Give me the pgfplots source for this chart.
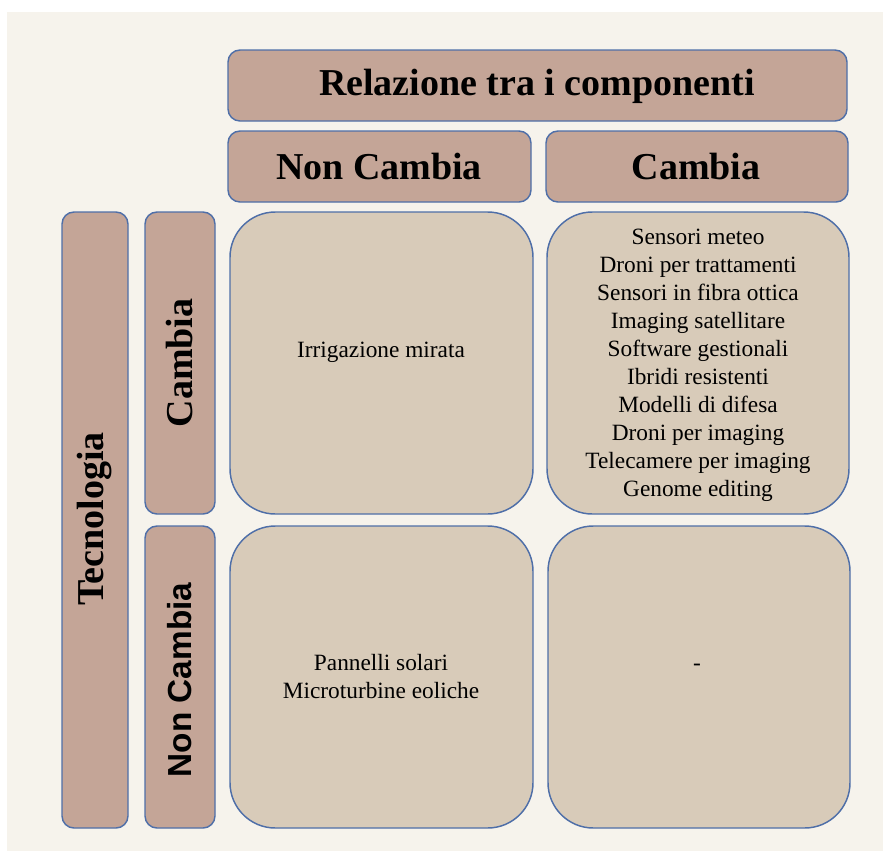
\documentclass[border=0pt]{standalone}
\usepackage{pgfplots}
\pgfplotsset{compat=1.18}
\usepackage{fontspec}
\setmainfont{Liberation Serif}
\newfontfamily\arialfont{Liberation Sans}
\definecolor{bg}{HTML}{F6F3EC}
\definecolor{hdr}{HTML}{C4A597}
\definecolor{cell}{HTML}{D8CBB9}
\definecolor{edge}{HTML}{4F6FA8}
\tikzset{
  hdrbox/.style={fill=hdr,draw=edge,line width=1.1pt,rounded corners=9pt},
  cellbox/.style={fill=cell,draw=edge,line width=1.1pt,rounded corners=34pt},
  hfont/.style={font=\fontsize{28.5}{34}\selectfont\bfseries},
  bfont/.style={font=\fontsize{17.5}{21}\selectfont,align=center,inner sep=0pt}
}
\begin{document}
\begin{tikzpicture}
\begin{axis}[width=662.25pt,height=638.25pt,scale only axis,hide axis,
  xmin=0,xmax=883,ymin=0,ymax=851,y dir=reverse,clip=false]
\fill[white] (axis cs:0,0) rectangle (axis cs:883,851);
\fill[bg] (axis cs:7,12) rectangle (axis cs:883,851);
% header boxes
\draw[hdrbox] (axis cs:228,50) rectangle (axis cs:847,121);
\draw[hdrbox] (axis cs:228,131) rectangle (axis cs:531,202);
\draw[hdrbox] (axis cs:546,131) rectangle (axis cs:848,202);
\draw[hdrbox] (axis cs:62,212) rectangle (axis cs:128,828);
\draw[hdrbox] (axis cs:145,212) rectangle (axis cs:215,514);
\draw[hdrbox] (axis cs:145,526) rectangle (axis cs:215,828);
% cells
\draw[cellbox] (axis cs:230,212) rectangle (axis cs:533,514);
\draw[cellbox] (axis cs:547,212) rectangle (axis cs:849,514);
\draw[cellbox] (axis cs:230,526) rectangle (axis cs:533,828);
\draw[cellbox] (axis cs:548,526) rectangle (axis cs:850,828);
% header texts
\node[hfont] at (axis cs:537,86) {Relazione tra i componenti};
\node[hfont] at (axis cs:379,166) {Non Cambia};
\node[hfont] at (axis cs:696,166) {Cambia};
\node[hfont,rotate=90] at (axis cs:95,519) {Tecnologia};
\node[hfont,rotate=90] at (axis cs:180,363) {Cambia};
\node[font=\fontsize{25}{30}\selectfont\arialfont\bfseries,rotate=90] at (axis cs:180,680) {Non Cambia};
% cell texts
\node[bfont] at (axis cs:381,352) {Irrigazione mirata};
\node[bfont] at (axis cs:698,365) {Sensori meteo\\Droni per trattamenti\\Sensori in fibra ottica\\Imaging satellitare\\Software gestionali\\Ibridi resistenti\\Modelli di difesa\\Droni per imaging\\Telecamere per imaging\\Genome editing};
\node[bfont] at (axis cs:381,677) {Pannelli solari\\Microturbine eoliche};
\node[bfont] at (axis cs:697,667) {-};
\end{axis}
\end{tikzpicture}
\end{document}
